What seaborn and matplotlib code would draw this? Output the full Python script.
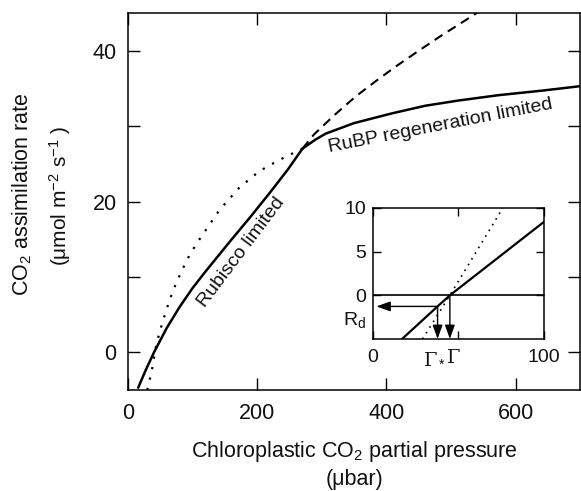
import numpy as np
import pandas as pd
import matplotlib
matplotlib.use("Agg")
import matplotlib.pyplot as plt
import seaborn as sns

# ---- data ----
# Main panel: chloroplastic CO2 (ubar) vs assimilation (umol m-2 s-1)
rubisco_x = [16, 28, 40.5, 60, 80, 100, 120, 157, 190, 220, 248, 270]
rubisco_y = [-4.7, -2.3, 0.0, 3.2, 6.0, 8.5, 10.7, 14.6, 18.0, 21.2, 24.3, 27.0]

rubisco_ext_x = [270, 288, 320, 352, 384, 416, 450, 483, 527, 545]
rubisco_ext_y = [27.0, 28.9, 31.5, 33.9, 36.0, 38.0, 40.0, 41.9, 44.3, 45.3]

rubp_x = [270, 290, 306, 350, 409, 460, 512, 573, 640, 700]
rubp_y = [27.0, 28.2, 29.0, 30.4, 31.7, 32.7, 33.4, 34.1, 34.7, 35.3]

rubp_ext_x = [30, 37, 44, 52, 59.5, 70, 82.7, 96, 111, 142, 172, 203, 234, 260, 270]
rubp_ext_y = [-5.0, -2.5, 1.0, 3.5, 5.6, 8.2, 10.7, 13.0, 15.0, 18.9, 21.8, 24.0, 25.5, 26.6, 27.0]

x_ticks = [0, 200, 400, 600]
y_ticks = [0, 20, 40]

# Inset
inset_solid_x = [17, 37.8, 45, 100]
inset_solid_y = [-5.0, -1.27, 0.0, 8.4]
inset_dot_x = [29, 45, 76]
inset_dot_y = [-5.0, 0.0, 10.0]
gamma_star = 37.8
gamma = 45.0
rd = -1.27

sns.set_theme(style="ticks")
plt.rcParams['font.family'] = ['Liberation Sans', 'DejaVu Sans']
plt.rcParams['mathtext.fontset'] = 'custom'
plt.rcParams['mathtext.rm'] = 'Liberation Sans'
plt.rcParams['mathtext.it'] = 'Liberation Sans:italic'

fig = plt.figure(figsize=(5.81, 4.91), dpi=100)
fig.patch.set_facecolor('white')
ax = fig.add_axes([0.220, 0.2057, 0.779, 0.7678])

lw = 1.8
sns.lineplot(x=rubisco_x, y=rubisco_y, ax=ax, color='black', lw=lw, sort=False)
sns.lineplot(x=rubp_x, y=rubp_y, ax=ax, color='black', lw=lw, sort=False)
sns.lineplot(x=rubisco_ext_x, y=rubisco_ext_y, ax=ax, color='black', lw=1.5,
             sort=False, linestyle=(0, (4.5, 3)))
sns.lineplot(x=rubp_ext_x, y=rubp_ext_y, ax=ax, color='black', lw=1.6,
             sort=False, linestyle=(0, (1, 3.8)))

ax.set_xlim(0, 700)
ax.set_ylim(-5, 45)
ax.set_xticks(x_ticks)
ax.set_yticks(y_ticks)
ax.set_yticks([10, 30], minor=True)
ax.tick_params(which='both', direction='in', top=True, right=True,
               length=8.5, width=1.0, color='black', labelsize=15.5,
               labelcolor='#111111')
ax.tick_params(axis='x', pad=9)
ax.tick_params(axis='y', pad=8)
for s in ax.spines.values():
    s.set_linewidth(1.1)
    s.set_color('black')
    s.set_visible(True)

ax.set_xlabel("Chloroplastic CO$_2$ partial pressure\n(\u03bcbar)", fontsize=15.5,
              linespacing=1.35, labelpad=11, color='#111111')
ax.set_ylabel("")
fig.text(0.038, 0.605, "CO$_2$ assimilation rate", rotation=90, fontsize=15.5,
         ha='center', va='center', color='#111111')
fig.text(0.104, 0.601, "(\u03bcmol m$^{-2}$ s$^{-1}$ )", rotation=90, fontsize=15,
         ha='center', va='center', color='#111111')

ax.text(176, 13.3, "Rubisco limited", rotation=53, fontsize=14,
        ha='center', va='center', rotation_mode='anchor', color='#111111')
ax.text(484, 30.0, "RuBP regeneration limited", rotation=11, fontsize=14,
        ha='center', va='center', rotation_mode='anchor', color='#111111')

# ---- inset ----
ins = fig.add_axes([0.642, 0.3096, 0.294, 0.2668])
ins.set_facecolor('white')
ins.plot([0, 100], [0, 0], color='black', lw=1.2)
sns.lineplot(x=inset_solid_x, y=inset_solid_y, ax=ins, color='black', lw=1.6, sort=False)
sns.lineplot(x=inset_dot_x, y=inset_dot_y, ax=ins, color='black', lw=1.2,
             sort=False, linestyle=(0, (1, 3)))
ins.set_xlim(0, 100)
ins.set_ylim(-5, 10)
ins.set_xticks([0, 50, 100])
ins.set_xticklabels(["0", "", "100"])
ins.set_yticks([0, 5, 10])
ins.tick_params(which='both', direction='in', top=True, right=True,
                length=6, width=1.0, labelsize=14, color='black',
                labelcolor='#111111')
ins.tick_params(axis='x', pad=7)
ins.tick_params(axis='y', pad=5)
for s in ins.spines.values():
    s.set_linewidth(1.1)
    s.set_color('black')

arrow_kw = dict(arrowstyle='-|>,head_length=0.7,head_width=0.25', color='black',
                lw=1.0, shrinkA=0, shrinkB=0)
ins.annotate("", xy=(2, rd), xytext=(gamma_star, rd), arrowprops=arrow_kw)
ins.annotate("", xy=(gamma_star, -5), xytext=(gamma_star, rd), arrowprops=arrow_kw)
ins.annotate("", xy=(gamma, -5), xytext=(gamma, 0), arrowprops=arrow_kw)

ins.text(-4, -2.8, "R$_\\mathrm{d}$", fontsize=14, ha='right', va='center',
         color='#111111')
ins.text(gamma_star - 1.5, -6.1, "\u0393$_*$", fontsize=14, ha='center', va='top',
         family=['DejaVu Serif'], color='#111111')
ins.text(gamma + 2, -6.1, "\u0393", fontsize=14, ha='center', va='top',
         family=['DejaVu Serif'], color='#111111')

fig.savefig("out.png", dpi=100, facecolor='white')
